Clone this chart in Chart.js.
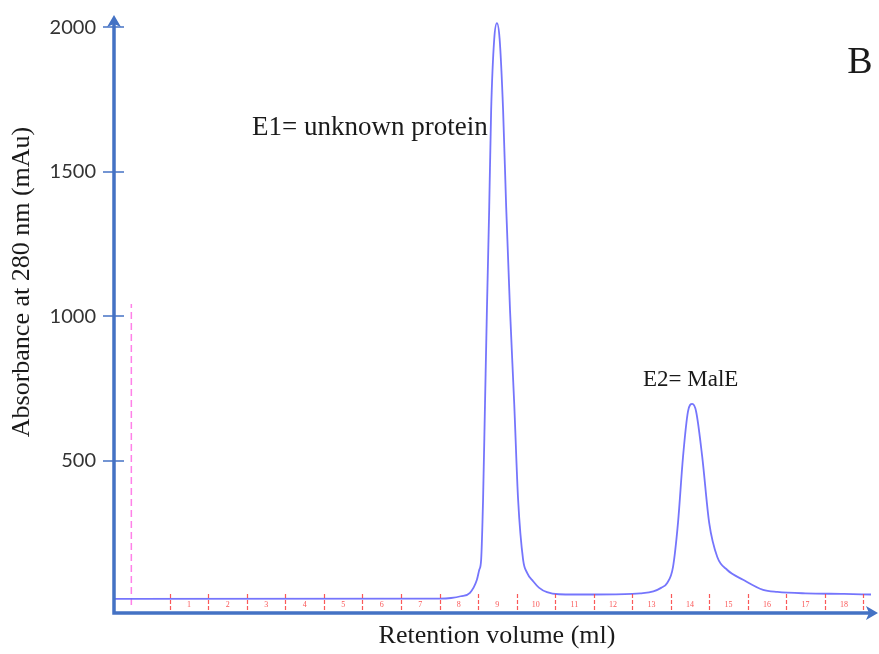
<!DOCTYPE html>
<html>
<head>
<meta charset="utf-8">
<script src="https://cdn.jsdelivr.net/npm/chart.js@4.4.0/dist/chart.umd.min.js"></script>
<style>
  html, body { margin: 0; padding: 0; background: #fff; }
  #wrap { width: 879px; height: 654px; position: relative; }
</style>
</head>
<body>
<div id="wrap"><canvas id="sec"></canvas></div>
<script>
// SEC elution profile (x in fraction units, y in mAu)
const volume = [-1.45, 7.0, 7.3, 7.55, 7.79, 7.97, 8.03, 8.08, 8.13, 8.18, 8.23, 8.29, 8.34, 8.42, 8.49, 8.56,
  8.65, 8.73, 8.83, 8.94, 9.04, 9.17, 9.27, 9.43, 9.58, 9.79, 10.1, 11.0, 12.0, 12.21, 12.55, 12.75, 12.91, 13.06,
  13.19, 13.32, 13.45, 13.56, 13.66, 13.82, 14.0, 14.21, 14.47, 14.88, 15.4, 15.77, 16.5, 17.5, 18.2];
const absorbance = [21, 22, 24, 30, 42, 87, 121, 156, 364, 693, 1021, 1378, 1714, 1960, 2015, 1960,
  1714, 1378, 1021, 693, 364, 156, 112, 82, 60, 44, 37, 36, 38, 40, 47, 59, 76, 131,
  284, 512, 670, 696, 670, 512, 284, 166, 121, 87, 52, 45, 40, 38, 36];

const yTicks = [500, 1000, 1500, 2000];
const fractionEdges = [0, 1, 2, 3, 4, 5, 6, 7, 8, 9, 10, 11, 12, 13, 14, 15, 16, 17, 18];
const fractionLabels = ['1', '2', '3', '4', '5', '6', '7', '8', '9', '10', '11', '12', '13', '14', '15', '16', '17', '18'];

// injection marker
const injectX = [-1, -1];
const injectY = [0, 1042];

const peakNames = ['E1= unknown protein', 'E2= MalE'];
const panelLetter = 'B';
const xTitle = 'Retention volume (ml)';
const yTitle = 'Absorbance at 280 nm (mAu)';

const axisBlue = '#4472C4';
const serif = '"Liberation Serif", "Times New Roman", serif';

const decor = {
  id: 'decor',
  afterDraw(chart) {
    const { ctx, chartArea: a, scales: { x, y } } = chart;
    ctx.save();

    // fraction dividers along the baseline
    ctx.strokeStyle = 'rgba(250, 70, 70, 0.9)';
    ctx.lineWidth = 1.2;
    ctx.setLineDash([4, 2]);
    fractionEdges.forEach(v => {
      const px = Math.round(x.getPixelForValue(v)) + 0.5;
      ctx.beginPath();
      ctx.moveTo(px, a.bottom - 19);
      ctx.lineTo(px, a.bottom);
      ctx.stroke();
    });
    ctx.setLineDash([]);
    ctx.fillStyle = 'rgba(250, 70, 70, 0.9)';
    ctx.font = '8px ' + serif;
    ctx.textAlign = 'center';
    ctx.textBaseline = 'middle';
    fractionLabels.forEach((t, i) => {
      const mid = (fractionEdges[i] + fractionEdges[i + 1]) / 2;
      ctx.fillText(t, x.getPixelForValue(mid), a.bottom - 8);
    });

    // axes with arrow heads
    const xEnd = a.right + 7;
    ctx.strokeStyle = axisBlue;
    ctx.lineWidth = 3.5;
    ctx.beginPath();
    ctx.moveTo(a.left, a.top + 6);
    ctx.lineTo(a.left, a.bottom);
    ctx.lineTo(xEnd - 6, a.bottom);
    ctx.stroke();
    ctx.fillStyle = axisBlue;
    ctx.beginPath();
    ctx.moveTo(a.left, a.top);
    ctx.lineTo(a.left - 7, a.top + 12);
    ctx.lineTo(a.left, a.top + 9);
    ctx.lineTo(a.left + 7, a.top + 12);
    ctx.closePath();
    ctx.fill();
    ctx.beginPath();
    ctx.moveTo(xEnd, a.bottom);
    ctx.lineTo(xEnd - 12, a.bottom - 7);
    ctx.lineTo(xEnd - 9, a.bottom);
    ctx.lineTo(xEnd - 12, a.bottom + 7);
    ctx.closePath();
    ctx.fill();

    // y tick marks crossing the axis
    ctx.strokeStyle = 'rgba(68, 114, 196, 0.75)';
    ctx.lineWidth = 2;
    yTicks.forEach(v => {
      const py = Math.round(y.getPixelForValue(v));
      ctx.beginPath();
      ctx.moveTo(a.left - 11, py);
      ctx.lineTo(a.left + 10, py);
      ctx.stroke();
    });

    // text
    ctx.fillStyle = '#1a1a1a';
    ctx.textAlign = 'left';
    ctx.font = '27px ' + serif;
    ctx.fillText(peakNames[0], 252, 128);
    ctx.font = '23px ' + serif;
    ctx.fillText(peakNames[1], 643, 380);
    ctx.font = '38px ' + serif;
    ctx.textAlign = 'center';
    ctx.fillText(panelLetter, 860, 63);

    ctx.font = '26px ' + serif;
    ctx.fillText(xTitle, 497, 636);
    ctx.translate(22, 282);
    ctx.rotate(-Math.PI / 2);
    ctx.fillText(yTitle, 0, 0);
    ctx.restore();
  }
};

new Chart(document.getElementById('sec'), {
  type: 'line',
  data: {
    datasets: [{
      data: volume.map((v, i) => ({ x: v, y: absorbance[i] })),
      borderColor: 'rgba(110, 110, 252, 0.95)',
      borderWidth: 1.8,
      pointRadius: 0,
      cubicInterpolationMode: 'monotone',
      fill: false
    }, {
      data: injectX.map((v, i) => ({ x: v, y: injectY[i] })),
      borderColor: 'rgba(255, 115, 230, 0.9)',
      borderWidth: 1.5,
      borderDash: [7, 4],
      pointRadius: 0,
      fill: false
    }]
  },
  options: {
    responsive: true,
    maintainAspectRatio: false,
    animation: false,
    layout: { padding: { left: 0, top: 15, right: 8, bottom: 41 } },
    plugins: { legend: { display: false }, tooltip: { enabled: false } },
    scales: {
      x: {
        type: 'linear',
        min: -1.45,
        max: 18.2,
        display: false
      },
      y: {
        min: -28,
        max: 2043,
        afterBuildTicks: s => { s.ticks = yTicks.map(v => ({ value: v })); },
        afterFit: s => {
          s.width = 114;
          s.paddingTop = 0;
          s.paddingBottom = 0;
        },
        grid: { display: false },
        border: { display: false },
        ticks: {
          padding: 10,
          color: '#333',
          font: { family: 'Lato', size: 20 },
          callback: v => String(v)
        }
      }
    }
  },
  plugins: [decor]
});
</script>
</body>
</html>
